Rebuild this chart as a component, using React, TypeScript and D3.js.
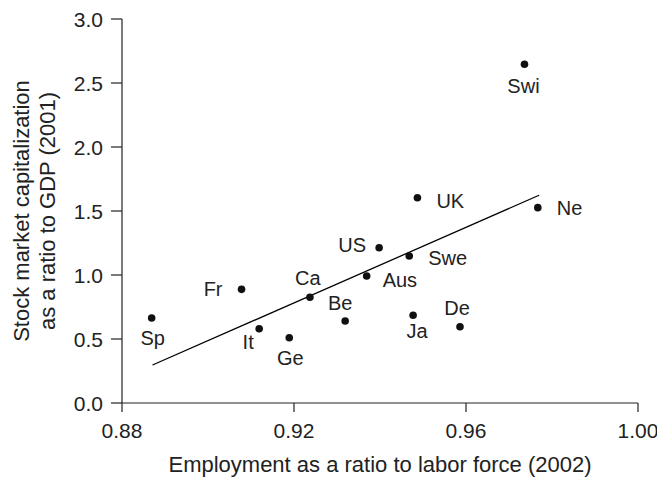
import React from "react";
import * as d3 from "d3";

const countries = ["Sp", "Fr", "It", "Ge", "Ca", "Be", "Aus", "US", "Swe", "Ja", "UK", "De", "Swi", "Ne"];
const employment = [0.8869, 0.9078, 0.9119, 0.9189, 0.9237, 0.9319, 0.9369, 0.9398, 0.9468, 0.9477, 0.9487, 0.9586, 0.9736, 0.9767];
const marketCap = [0.664, 0.888, 0.58, 0.51, 0.826, 0.641, 0.992, 1.213, 1.148, 0.685, 1.604, 0.596, 2.646, 1.526];
const fitX = [0.8871, 0.977];
const fitY = [0.297, 1.623];
const xTicks = [0.88, 0.92, 0.96, 1.0];
const yTicks = [0, 0.5, 1.0, 1.5, 2.0, 2.5, 3.0];

// label placement relative to dot (layout only)
const labelPos: Record<string, [number, number, string]> = {
  Sp: [1, 27, "middle"],
  Fr: [-19, 7, "end"],
  It: [-11, 20, "middle"],
  Ge: [1, 27, "middle"],
  Ca: [-2, -12, "middle"],
  Be: [-5, -11, "middle"],
  Aus: [16, 11, "start"],
  US: [-13, 4, "end"],
  Swe: [19, 9, "start"],
  Ja: [4, 23, "middle"],
  UK: [19, 10, "start"],
  De: [-3, -12, "middle"],
  Swi: [-1, 29, "middle"],
  Ne: [19, 7, "start"],
};

export default function App() {
  const W = 657, H = 477;
  const x = d3.scaleLinear().domain([0.88, 1.0]).range([122, 638]);
  const y = d3.scaleLinear().domain([0, 3]).range([403, 19]);
  const font = "Liberation Sans, Arial, Helvetica, sans-serif";
  const col = "#222";
  const fit = d3.line<number>().x((d) => x(fitX[d])).y((d) => y(fitY[d]))([0, 1]) || "";
  return (
    <svg width={W} height={H} style={{ position: "absolute", left: 0, top: 0, background: "#fff" }} fontFamily={font}>
      {/* axes */}
      <line x1={x(0.88)} x2={x(0.88)} y1={y(3)} y2={y(0)} stroke={col} strokeWidth={1.2} />
      <line x1={x(0.88)} x2={x(1.0)} y1={y(0)} y2={y(0)} stroke={col} strokeWidth={1.2} />
      {yTicks.map((t) => (
        <g key={"y" + t}>
          <line x1={x(0.88) - 11} x2={x(0.88)} y1={y(t)} y2={y(t)} stroke={col} strokeWidth={1.2} />
          <text x={x(0.88) - 19} y={y(t)} dy="0.36em" textAnchor="end" fontSize={21} fill={col}>
            {t.toFixed(1)}
          </text>
        </g>
      ))}
      {xTicks.map((t) => (
        <g key={"x" + t}>
          <line x1={x(t)} x2={x(t)} y1={y(0)} y2={y(0) + 9} stroke={col} strokeWidth={1.2} />
          <text x={x(t)} y={438} textAnchor="middle" fontSize={21} fill={col}>
            {t.toFixed(2)}
          </text>
        </g>
      ))}
      <text x={(x(0.88) + x(1.0)) / 2} y={472} textAnchor="middle" fontSize={22} fill={col}>
        Employment as a ratio to labor force (2002)
      </text>
      <g transform={`translate(0, ${(y(0) + y(3)) / 2}) rotate(-90)`}>
        <text x={0} y={29} textAnchor="middle" fontSize={22} fill={col}>
          Stock market capitalization
        </text>
        <text x={0} y={55} textAnchor="middle" fontSize={22} fill={col}>
          as a ratio to GDP (2001)
        </text>
      </g>
      <path d={fit} stroke="#000" strokeWidth={1.3} fill="none" />
      {countries.map((c, i) => {
        const [dx, dy, anchor] = labelPos[c];
        const cx = x(employment[i]);
        const cy = y(marketCap[i]);
        return (
          <g key={c}>
            <circle cx={cx} cy={cy} r={3.8} fill="#111" />
            <text x={cx + dx} y={cy + dy} textAnchor={anchor as any} fontSize={20} fill={col}>
              {c}
            </text>
          </g>
        );
      })}
    </svg>
  );
}
